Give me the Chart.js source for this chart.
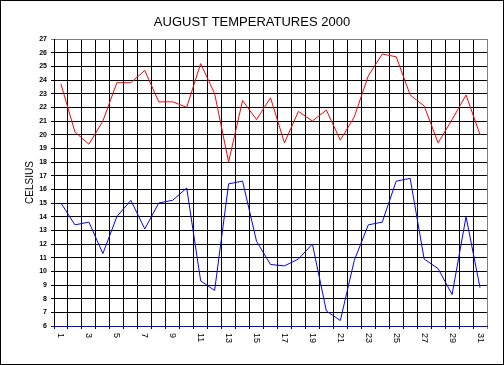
<!DOCTYPE html>
<html><head><meta charset="utf-8">
<script src="https://cdn.jsdelivr.net/npm/chart.js@4"></script>
<style>
html,body{margin:0;padding:0;background:#fff}
#wrap{position:absolute;left:0;top:0;width:502px;height:363px;border:1px solid #000;background:#fff}
canvas{display:block}
</style></head><body>
<div id="wrap"><canvas id="c" width="502" height="363"></canvas></div>
<script>
const days = ['1','2','3','4','5','6','7','8','9','10','11','12','13','14','15','16','17','18','19','20','21','22','23','24','25','26','27','28','29','30','31'];
const tickLabels = ['1','','3','','5','','7','','9','','11','','13','','15','','17','','19','','21','','23','','25','','27','','29','','31'];
const highTemps = [23.7,20.2,19.3,21.0,23.8,23.8,24.7,22.4,22.4,22.0,25.2,23.0,18.0,22.5,21.1,22.7,19.4,21.7,21.0,21.8,19.6,21.3,24.3,25.9,25.7,22.9,22.1,19.4,21.1,22.9,20.0];
const lowTemps = [15.0,13.4,13.6,11.3,14.0,15.2,13.1,15.0,15.2,16.1,9.3,8.6,16.4,16.6,12.2,10.5,10.4,10.9,12.0,7.1,6.4,10.8,13.4,13.6,16.6,16.8,10.9,10.2,8.3,14.0,8.8];
const yMin = 6, yMax = 27;
const titleText = 'AUGUST TEMPERATURES 2000';
const yTitle = 'CELSIUS';

const rotatedXLabels = {
  id: 'rotatedXLabels',
  afterDraw(chart) {
    const sx = chart.scales.x;
    const ctx = chart.ctx;
    ctx.save();
    ctx.fillStyle = '#000';
    ctx.font = '9px "Liberation Sans", Arial, sans-serif';
    ctx.textAlign = 'left';
    ctx.textBaseline = 'middle';
    tickLabels.forEach((lab, i) => {
      if (!lab) return;
      const x = sx.getPixelForValue(i);
      ctx.save();
      ctx.translate(x, sx.top + 7);
      ctx.rotate(Math.PI / 2);
      ctx.fillText(lab, 0, 0);
      ctx.restore();
    });
    ctx.restore();
  }
};

new Chart(document.getElementById('c'), {
  type: 'line',
  data: {
    labels: days,
    datasets: [
      {data: highTemps, borderColor: '#ff0000', borderWidth: 1, pointRadius: 0, tension: 0, fill: false},
      {data: lowTemps, borderColor: '#0000ff', borderWidth: 1, pointRadius: 0, tension: 0, fill: false}
    ]
  },
  options: {
    responsive: false,
    animation: false,
    devicePixelRatio: 1,
    layout: {padding: {left: 0, right: 0, top: 0, bottom: 0}},
    plugins: {
      legend: {display: false},
      tooltip: {enabled: false},
      title: {display: true, text: titleText, color: '#000',
        font: {family: '"Liberation Sans", Arial, sans-serif', size: 13, weight: 'normal'},
        padding: {top: 14, bottom: 8.4}}
    },
    scales: {
      x: {
        type: 'category',
        offset: true,
        grid: {offset: true, lineWidth: 1, tickLength: 3, drawTicks: true,
          color: c => c.type === 'tick' ? '#000' : '#808080'},
        border: {color: '#0000ff', width: 1},
        ticks: {display: false},
        afterFit: s => { s.height = 38; }
      },
      y: {
        min: yMin, max: yMax,
        ticks: {stepSize: 1, color: '#000', padding: 4,
          font: {family: '"Liberation Sans", Arial, sans-serif', size: 7, weight: 'bold'}},
        grid: {lineWidth: 1, tickLength: 3,
          color: c => (c.tick && c.tick.value === yMax) ? '#808080' : (c.tick && c.tick.value === yMin) ? '#0000ff' : '#000'},
        border: {color: '#000', width: 1},
        title: {display: true, text: yTitle, color: '#000',
          font: {family: '"Liberation Sans", Arial, sans-serif', size: 10, weight: 'normal'},
          padding: {top: 23, bottom: 0}},
        afterFit: s => { s.width = 53; }
      },
      yRight: {
        position: 'right',
        min: yMin, max: yMax,
        grid: {display: false, drawTicks: false},
        border: {display: false},
        ticks: {display: false},
        afterFit: s => { s.width = 16; }
      }
    }
  },
  plugins: [rotatedXLabels]
});
</script>
</body></html>
